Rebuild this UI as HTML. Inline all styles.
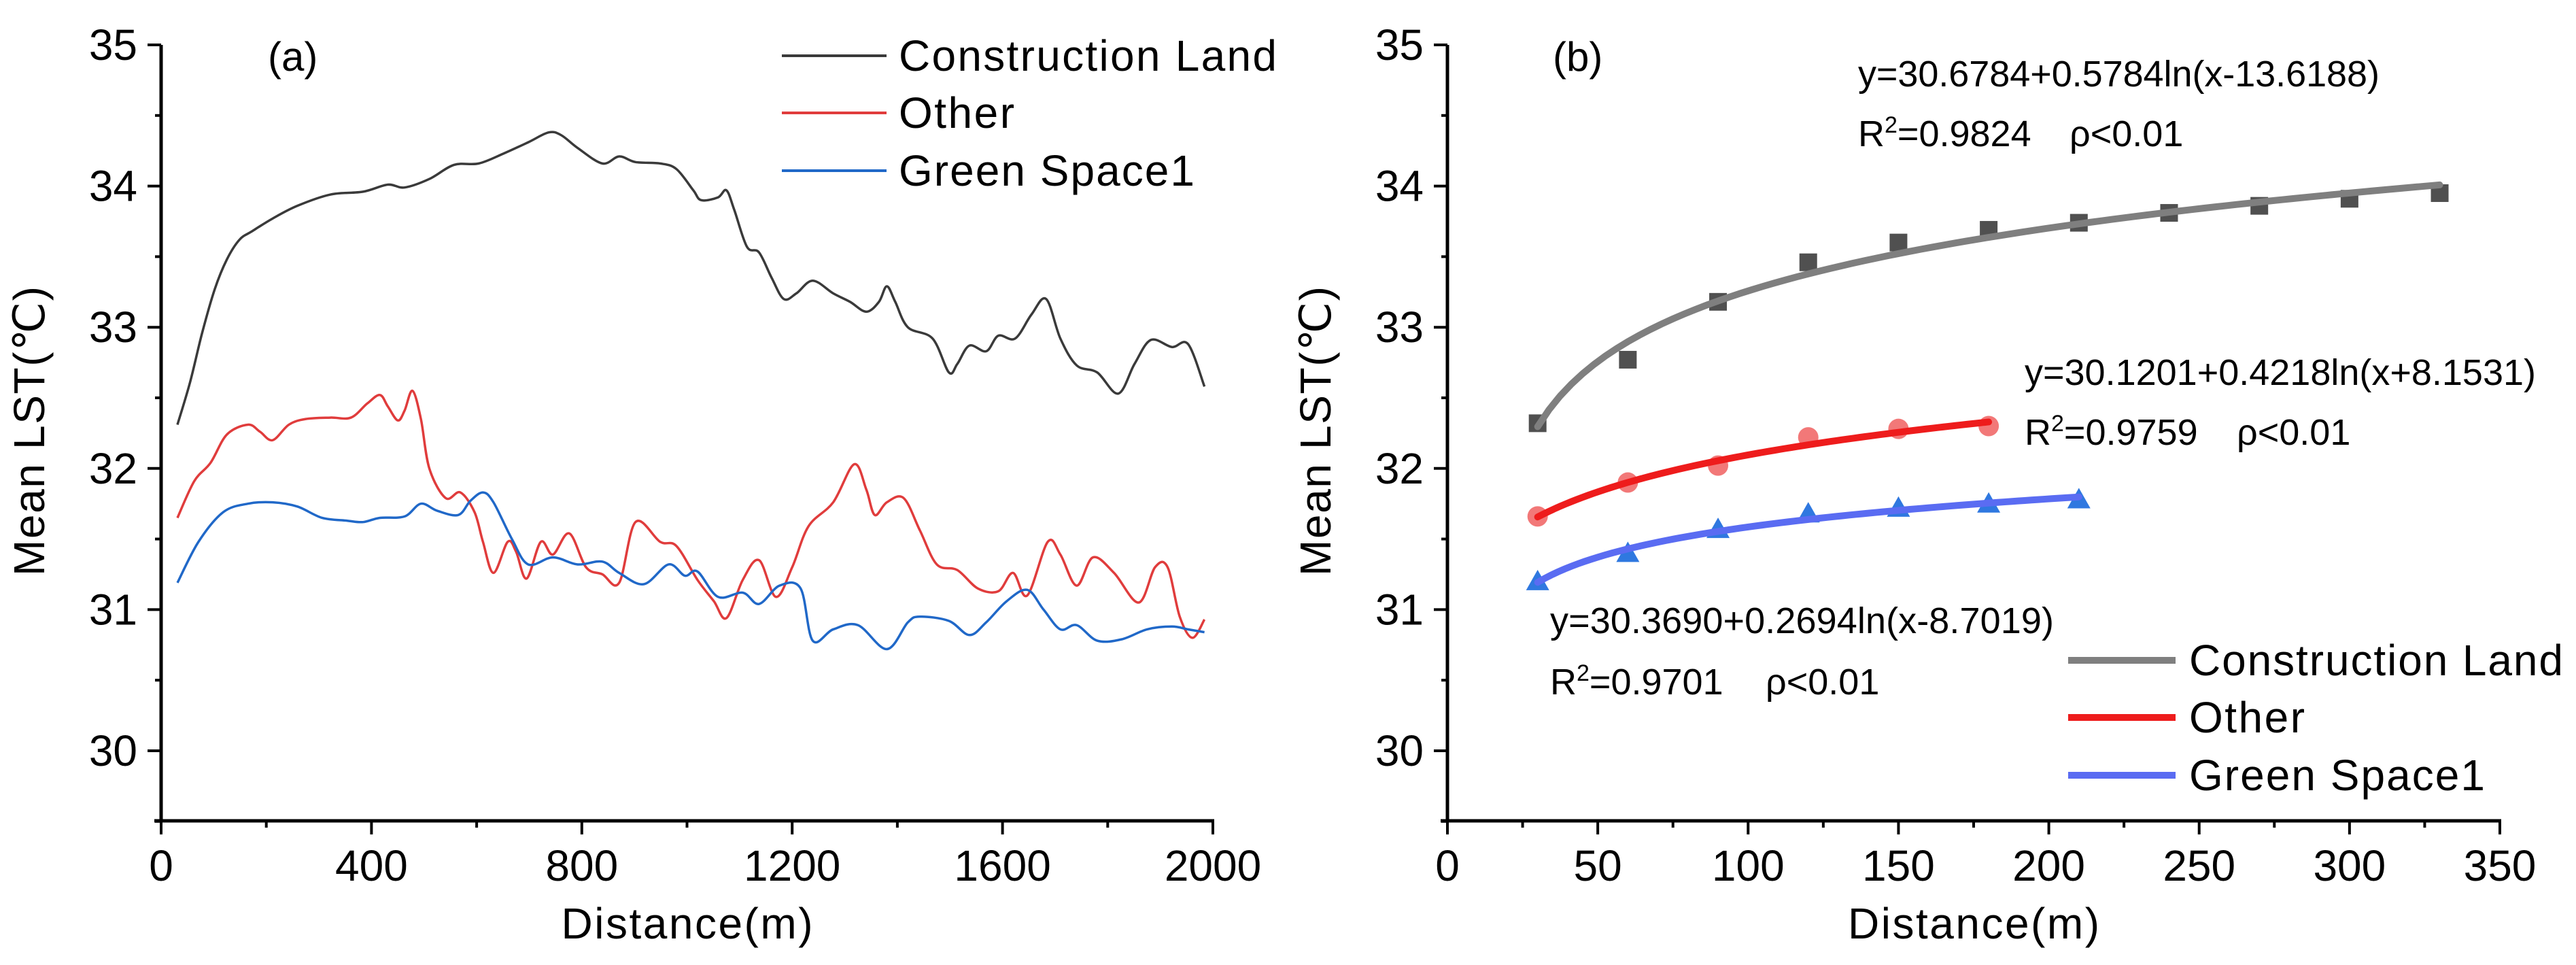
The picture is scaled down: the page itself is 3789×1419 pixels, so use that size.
<!DOCTYPE html>
<html><head><meta charset="utf-8"><style>
html,body{margin:0;padding:0;background:#fff}
svg{display:block}
text{font-family:"Liberation Sans Narrow","Liberation Sans",sans-serif;fill:#000}
</style></head><body>
<svg id="chart" width="3789" height="1419" viewBox="0 0 3789 1419" xmlns="http://www.w3.org/2000/svg"></svg>
<script>
// ---- Panel (a) data ----
const aConstrX=[31,55,78,102,125,149,173,212,259,322,384,431,463,510,557,604,651,698,737,761,792,839,871,902,949,980,1012,1027,1059,1075,1090,1114,1137,1161,1184,1208,1239,1278,1310,1341,1365,1380,1396,1420,1467,1498,1514,1537,1569,1592,1624,1655,1683,1710,1741,1780,1820,1851,1882,1922,1953,1984];
const aConstrY=[32.31,32.61,32.96,33.27,33.48,33.62,33.68,33.77,33.86,33.94,33.96,34.01,33.99,34.05,34.15,34.16,34.23,34.31,34.38,34.36,34.27,34.16,34.21,34.17,34.16,34.12,33.97,33.90,33.92,33.97,33.83,33.57,33.53,33.35,33.20,33.24,33.33,33.24,33.18,33.11,33.18,33.29,33.18,33.00,32.92,32.68,32.74,32.87,32.83,32.94,32.92,33.09,33.20,32.92,32.73,32.68,32.53,32.74,32.91,32.86,32.88,32.58];
const aOtherX=[31,63,94,125,165,188,212,243,275,322,361,392,416,431,450,463,478,494,510,541,569,596,612,632,659,675,695,722,745,776,808,839,871,902,949,980,1020,1051,1075,1106,1137,1169,1200,1231,1278,1318,1341,1357,1380,1412,1443,1475,1514,1553,1592,1620,1647,1686,1710,1741,1772,1812,1859,1890,1914,1937,1961,1984];
const aOtherY=[31.65,31.91,32.04,32.24,32.31,32.26,32.20,32.31,32.35,32.36,32.36,32.46,32.52,32.44,32.34,32.41,32.55,32.35,32.00,31.79,31.83,31.69,31.48,31.26,31.48,31.41,31.22,31.48,31.39,31.54,31.30,31.25,31.19,31.62,31.48,31.45,31.21,31.06,30.94,31.21,31.35,31.09,31.30,31.59,31.76,32.03,31.85,31.67,31.76,31.79,31.56,31.32,31.28,31.15,31.13,31.26,31.10,31.48,31.39,31.17,31.37,31.26,31.05,31.30,31.30,30.95,30.80,30.93];
const aGreenX=[31,71,118,165,212,259,306,353,384,416,463,494,525,565,588,612,632,667,698,745,792,839,871,918,965,996,1020,1059,1106,1137,1176,1216,1239,1278,1325,1380,1420,1443,1498,1537,1569,1608,1647,1678,1710,1741,1780,1827,1875,1922,1953,1984];
const aGreenY=[31.19,31.48,31.69,31.75,31.76,31.73,31.65,31.63,31.62,31.65,31.66,31.75,31.70,31.67,31.77,31.83,31.76,31.50,31.32,31.37,31.32,31.34,31.26,31.18,31.32,31.24,31.27,31.09,31.12,31.04,31.17,31.15,30.78,30.86,30.89,30.72,30.91,30.95,30.92,30.82,30.91,31.06,31.14,31.00,30.86,30.89,30.78,30.79,30.86,30.88,30.86,30.84];
const aXTicks=[0,400,800,1200,1600,2000];
const yTicks=[30,31,32,33,34,35];
// ---- Panel (b) data ----
const bConstrX=[30,60,90,120,150,180,210,240,270,300,330];
const bConstrY=[32.32,32.77,33.18,33.46,33.60,33.69,33.74,33.81,33.86,33.91,33.95];
const bOtherX=[30,60,90,120,150,180];
const bOtherY=[31.66,31.90,32.02,32.22,32.28,32.30];
const bGreenX=[30,60,90,120,150,180,210];
const bGreenY=[31.20,31.40,31.57,31.68,31.72,31.75,31.78];
const fitConstr=[30.6784,0.5784,-13.6188];
const fitOther=[30.1201,0.4218,8.1531];
const fitGreen=[30.3690,0.2694,-8.7019];
const bXTicks=[0,50,100,150,200,250,300,350];

const NS="http://www.w3.org/2000/svg";
const svg=document.getElementById('chart');
function mk(tag,attrs,parent){const e=document.createElementNS(NS,tag);for(const k in attrs)e.setAttribute(k,attrs[k]);(parent||svg).appendChild(e);return e;}
const Y0=1207, yTop=66, yUnit=(1104-66)/5;
function ys(v){return 66+(35-v)*yUnit;}
function smoothPath(pts){let d='M'+pts[0][0]+','+pts[0][1];for(let i=0;i<pts.length-1;i++){const p0=pts[i-1]||pts[i],p1=pts[i],p2=pts[i+1],p3=pts[i+2]||p2;const c1x=p1[0]+(p2[0]-p0[0])/6,c1y=p1[1]+(p2[1]-p0[1])/6,c2x=p2[0]-(p3[0]-p1[0])/6,c2y=p2[1]-(p3[1]-p1[1])/6;d+=` C${c1x},${c1y} ${c2x},${c2y} ${p2[0]},${p2[1]}`;}return d;}

function axes(g,x0,x1,xs,xt,xmax,minorStep){
  // axis lines
  const ya=mk('line',{x1:x0,y1:yTop,x2:x0,y2:Y0,stroke:'#000','stroke-width':5},g);
  
  const xa=mk('line',{x1:x0-10,y1:Y0,x2:x1+2,y2:Y0,stroke:'#000','stroke-width':5},g);
  
  for(let v=29.5;v<=35.001;v+=0.5){const major=Math.abs(v-Math.round(v))<1e-6;
    mk('line',{x1:x0-(major?20:9),y1:ys(v),x2:x0,y2:ys(v),stroke:'#000','stroke-width':4},g);}
  yTicks.forEach(v=>{const t=mk('text',{x:x0-35,y:ys(v)+22,'text-anchor':'end','font-size':64},g);t.textContent=v;
    });
  for(let v=0;v<=xmax+1e-6;v+=minorStep){const major=xt.some(t=>Math.abs(t-v)<1e-6);
    mk('line',{x1:xs(v),y1:Y0,x2:xs(v),y2:Y0+(major?20:10),stroke:'#000','stroke-width':4},g);}
  xt.forEach(v=>{const t=mk('text',{x:xs(v),y:Y0+88,'text-anchor':'middle','font-size':64},g);t.textContent=v;
    });
  const yt=mk('text',{x:0,y:0,'text-anchor':'middle','font-size':64,transform:`translate(${x0-172},634) rotate(-90)`},g);
  yt.textContent='Mean LST(℃)';yt.setAttribute('textLength','426');
  
  const xT=mk('text',{x:(x0+x1)/2,y:1380,'text-anchor':'middle','font-size':64},g);
  xT.textContent='Distance(m)';xT.setAttribute('textLength','370');
  
}

// ---------- Panel A ----------
const gA=mk('g',{});

const axA0=237, axA1=1784;
function xsA(v){return axA0+v*(axA1-axA0)/2000;}
axes(gA,axA0,axA1,xsA,aXTicks,2000,200);
const lblA=mk('text',{x:394,y:104,'font-size':60},gA);lblA.textContent='(a)';

[[aConstrX,aConstrY,'#3a3a3a','line-construction-land'],[aOtherX,aOtherY,'#e03c3c','line-other'],[aGreenX,aGreenY,'#2068c8','line-green-space1']].forEach(s=>{
  const pts=s[0].map((x,i)=>[xsA(x),ys(s[1][i])]);
  const p=mk('path',{d:smoothPath(pts),fill:'none',stroke:s[2],'stroke-width':3.5},gA);
  
});
const legA=[['Construction Land','#3a3a3a',82,556],['Other','#e03c3c',166,170],['Green Space1','#2068c8',251,435]];
legA.forEach(l=>{
  const g=mk('g',{},gA);
  mk('line',{x1:1150,y1:l[2],x2:1304,y2:l[2],stroke:l[1],'stroke-width':4},g);
  const t=mk('text',{x:1322,y:l[2]+22,'font-size':64,textLength:l[3]},g);t.textContent=l[0];
});

// ---------- Panel B ----------
const gB=mk('g',{});

const axB0=2129, axB1=3677;
function xsB(v){return axB0+v*(axB1-axB0)/350;}
axes(gB,axB0,axB1,xsB,bXTicks,350,25);
const lblB=mk('text',{x:2284,y:104,'font-size':60},gB);lblB.textContent='(b)';

function fitCurve(f,xa,xb,color,name){const pts=[];for(let i=0;i<=80;i++){const x=xa+(xb-xa)*i/80;pts.push([xsB(x),ys(f[0]+f[1]*Math.log(x+f[2]))]);}
  const p=mk('path',{d:'M'+pts.map(p=>p.join(',')).join(' L'),fill:'none',stroke:color,'stroke-width':10,'stroke-linecap':'round'},gB);
  }
// points first then curves on top (approx)
bConstrX.forEach((x,i)=>{const s=mk('rect',{x:xsB(x)-13,y:ys(bConstrY[i])-13,width:26,height:26,fill:'#505050'},gB);
  });
bOtherX.forEach((x,i)=>{const s=mk('circle',{cx:xsB(x),cy:ys(bOtherY[i]),r:15,fill:'#f06060','fill-opacity':0.85},gB);
  });
bGreenX.forEach((x,i)=>{const cx=xsB(x),cy=ys(bGreenY[i]);const s=mk('polygon',{points:`${cx},${cy-17} ${cx-17},${cy+13} ${cx+17},${cy+13}`,fill:'#2f78e0'},gB);
  });
fitCurve(fitConstr,bConstrX[0],bConstrX[bConstrX.length-1],'#7f7f7f','fit-construction-land');
fitCurve(fitOther,bOtherX[0],bOtherX[bOtherX.length-1],'#ee1c1c','fit-other');
fitCurve(fitGreen,bGreenX[0],bGreenX[bGreenX.length-1],'#5a6cf2','fit-green-space1');

function eq(x,y,txt,len,name){const t=mk('text',{x:x,y:y,'font-size':54,textLength:len},gB);t.textContent=txt;
  }
function r2(x,y,val,px,name){const t=mk('text',{x:x,y:y,'font-size':54},gB);
  t.innerHTML='R<tspan dy="-20" font-size="34">2</tspan><tspan dy="20">='+val+'</tspan>';
  
  const p=mk('text',{x:px,y:y,'font-size':54},gB);p.textContent='ρ<0.01';
  }
eq(2733,127,'y=30.6784+0.5784ln(x-13.6188)',767,'equation-construction-land');
r2(2733,215,'0.9824',3044,'r2-construction-land');
eq(2978,566,'y=30.1201+0.4218ln(x+8.1531)',752,'equation-other');
r2(2978,654,'0.9759',3290,'r2-other');
eq(2280,931,'y=30.3690+0.2694ln(x-8.7019)',741,'equation-green-space1');
r2(2280,1021,'0.9701',2597,'r2-green-space1');

const legB=[['Construction Land','#7f7f7f',971,550],['Other','#ee1c1c',1055,170],['Green Space1','#5a6cf2',1140,435]];
legB.forEach(l=>{
  const g=mk('g',{},gB);
  mk('line',{x1:3042,y1:l[2],x2:3200,y2:l[2],stroke:l[1],'stroke-width':10},g);
  const t=mk('text',{x:3220,y:l[2]+22,'font-size':64,textLength:l[3]},g);t.textContent=l[0];
});
</script>
</body></html>
